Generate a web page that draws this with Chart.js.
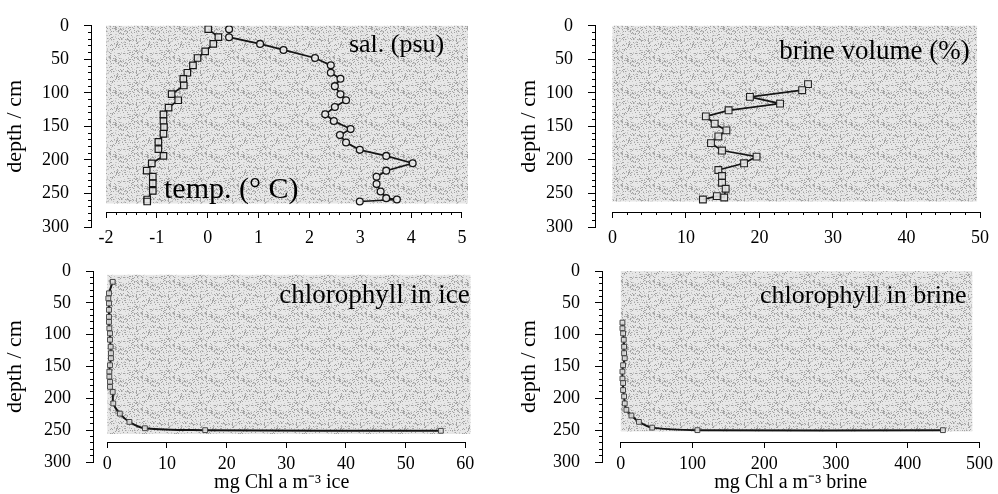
<!DOCTYPE html>
<html>
<head>
<meta charset="utf-8">
<script src="https://cdn.jsdelivr.net/npm/chart.js@4/dist/chart.umd.min.js"></script>
<style>
html,body{margin:0;padding:0;background:#fff;}
#wrap{position:relative;width:998px;height:494px;overflow:hidden;background:#fff;}
#wrap canvas{position:absolute;left:0;top:0;}
</style>
</head>
<body>
<div id="wrap">
<canvas id="cTL" width="998" height="494"></canvas>
<canvas id="cTR" width="998" height="494"></canvas>
<canvas id="cBL" width="998" height="494"></canvas>
<canvas id="cBR" width="998" height="494"></canvas>
</div>
<script>
// ---------------- data ----------------
const tempDepth  = [5,17,27,38,48,59,70,79,89,102,111,122,132,142,151,161,173,184,194,205,216,225,235,246,259,262];
const tempValues = [0.01,0.21,0.11,-0.05,-0.20,-0.29,-0.40,-0.48,-0.47,-0.71,-0.58,-0.77,-0.87,-0.87,-0.86,-0.87,-0.97,-0.97,-0.87,-1.10,-1.20,-1.08,-1.08,-1.08,-1.19,-1.19];

const salDepth  = [5,17,27,36,48,59,70,79,90,102,111,121,132,142,154,163,174,185,194,205,216,225,236,247,257,259,262];
const salValues = [0.42,0.42,1.03,1.49,2.11,2.42,2.42,2.61,2.50,2.61,2.72,2.50,2.31,2.48,2.81,2.60,2.72,2.99,3.51,4.03,3.51,3.32,3.32,3.40,3.51,3.72,2.99];

const brineDepth  = [87,96,106,116,126,135,146,156,165,175,186,195,205,215,224,234,243,256,254,259];
const brineVolume = [26.6,25.8,18.7,22.8,15.8,12.7,13.9,15.5,14.4,13.4,14.9,19.6,17.9,14.4,14.9,14.9,15.4,15.2,14.2,12.3];

const iceChlDepth = [17,35,43,51,61,72,80,90,98,108,119,129,137,148,158,166,174,182,190,208,224,237,247,250,251];
const iceChl      = [0.9,0.28,0.17,0.28,0.28,0.28,0.28,0.34,0.45,0.45,0.56,0.61,0.61,0.45,0.34,0.34,0.45,0.45,0.9,1.0,2.1,3.7,6.3,16.4,55.9];

const brineChlDepth = [81,90,98,108,119,129,137,148,158,169,176,187,197,208,218,227,237,246,250,250];
const brineChl      = [2.3,2.3,3.2,4.1,4.6,4.6,5.5,3.2,2.3,2.3,3.2,3.2,4.6,5.5,7.8,14.8,25.3,43.8,106.8,449];

// tick labels
const depthTicks    = [0,50,100,150,200,250,300];
const tempSalTicks  = [-2,-1,0,1,2,3,4,5];
const brineVolTicks = [0,10,20,30,40,50];
const iceChlTicks   = [0,10,20,30,40,50,60];
const brineChlTicks = [0,100,200,300,400,500];

// ---------------- helpers ----------------
function pts(xs, ys){ return xs.map((v,i)=>({x:v, y:ys[i]})); }
function steps(a,b,s){ const r=[]; for(let v=a; v<=b+1e-9; v+=s) r.push(Math.round(v*1000)/1000); return r; }
const depthMinor = steps(0,300,10);

Chart.defaults.font.family = '"Liberation Serif","Times New Roman",serif';
Chart.defaults.font.size = 18;
Chart.defaults.color = '#000';

// stipple texture for the shaded plot backgrounds (deterministic hash, not data)
let shadePattern = null;
function getPattern(ctx){
  if (shadePattern) return shadePattern;
  const N = 32;
  const c = document.createElement('canvas'); c.width = N; c.height = N;
  const g = c.getContext('2d');
  g.fillStyle = '#e7e7e7'; g.fillRect(0,0,N,N);
  for (let i=0;i<N;i++) for (let j=0;j<N;j++) {
    let h = (Math.imul(i+1, 73856093) ^ Math.imul(j+7, 19349663)) >>> 0;
    h = Math.imul(h ^ (h >>> 13), 1274126177) >>> 0;
    const r = (h >>> 8) % 100;
    if (r < 14) { g.fillStyle = '#a2a2a2'; g.fillRect(i,j,1,1); }
    else if (r < 28) { g.fillStyle = '#c8c8c8'; g.fillRect(i,j,1,1); }
  }
  shadePattern = ctx.createPattern(c,'repeat');
  return shadePattern;
}

const panelDeco = {
  id: 'panelDeco',
  beforeDatasetsDraw(chart, args, o){
    const {ctx} = chart, x = chart.scales.x, y = chart.scales.y;
    const s = o.shade;
    const l = x.getPixelForValue(s.x0), r = x.getPixelForValue(s.x1);
    const t = y.getPixelForValue(s.d0), b = y.getPixelForValue(s.d1);
    ctx.save();
    ctx.fillStyle = getPattern(ctx);
    ctx.fillRect(l, t, r-l, b-t);
    ctx.restore();
  },
  afterDatasetsDraw(chart, args, o){
    const {ctx} = chart, x = chart.scales.x, y = chart.scales.y;
    ctx.save();
    const a = o.axisLine;
    const py = Math.round(y.getPixelForValue(a.depth)) + 0.5;
    ctx.strokeStyle = '#000'; ctx.lineWidth = 1;
    ctx.beginPath();
    ctx.moveTo(x.getPixelForValue(a.from), py);
    ctx.lineTo(x.getPixelForValue(a.to), py);
    ctx.stroke();
    (o.labels||[]).forEach(L=>{
      ctx.font = L.size + 'px "Liberation Serif","Times New Roman",serif';
      ctx.fillStyle = '#000';
      ctx.textAlign = L.align;
      ctx.textBaseline = L.baseline;
      ctx.fillText(L.text, x.getPixelForValue(L.x), y.getPixelForValue(L.d));
    });
    ctx.restore();
  }
};

function makePanel(id, c){
  const scales = {
    x: {
      type:'linear', axis:'x', position:{y:c.axisDepth}, min:c.xMin, max:c.xMax,
      afterBuildTicks: s => { s.ticks = c.xTicks.map(v=>({value:v})); },
      ticks:{autoSkip:false, padding:c.xPad, maxRotation:0, font:{size:18}, color:'#000'},
      grid:{display:true, drawOnChartArea:false, drawTicks:true, tickLength:6, color:'#000', tickColor:'#000'},
      border:{display:false},
      title: c.xTitle ? {display:true, text:c.xTitle, font:{size:20}, color:'#000', padding:{top:-9,bottom:0}} : {display:false}
    },
    xMinor: {
      type:'linear', axis:'x', position:{y:c.axisDepth}, min:c.xMin, max:c.xMax,
      display: !!c.xMinor,
      afterBuildTicks: s => { s.ticks = (c.xMinor||[]).map(v=>({value:v})); },
      ticks:{display:false},
      grid:{display:true, drawOnChartArea:false, drawTicks:true, tickLength:3, color:'#000'},
      border:{display:false}
    },
    y: {
      type:'linear', axis:'y', position:'left', reverse:true, min:0, max:300, weight:1,
      afterBuildTicks: s => { s.ticks = depthTicks.map(v=>({value:v})); },
      afterFit: s => { s.width = c.yWidth; },
      ticks:{autoSkip:false, padding:15, font:{size:18}, color:'#000'},
      grid:{display:true, drawOnChartArea:false, drawTicks:true, tickLength:7, color:'#000'},
      border:{display:true, color:'#000', width:1},
      title:{display:true, text:'depth / cm', font:{size:22}, color:'#000', padding:{top:2,bottom:0}}
    },
    yMinor: {
      type:'linear', axis:'y', position:'left', reverse:true, min:0, max:300, weight:0,
      afterBuildTicks: s => { s.ticks = depthMinor.map(v=>({value:v})); },
      afterFit: s => { s.width = 0; },
      ticks:{display:false},
      grid:{display:true, drawOnChartArea:false, drawTicks:true, tickLength:3, color:'#000'},
      border:{display:false}
    }
  };
  return new Chart(document.getElementById(id), {
    type:'scatter',
    data:{datasets:c.datasets},
    options:{
      responsive:false, animation:false, events:[], devicePixelRatio:1,
      layout:{padding:c.padding},
      plugins:{legend:{display:false}, tooltip:{enabled:false}, title:{display:false}, panelDeco:c.deco},
      scales
    },
    plugins:[panelDeco]
  });
}

// ---------------- panels ----------------
makePanel('cTL', {
  padding:{left:0, top:18, right:530, bottom:267},
  yWidth:91, xMin:-2.295, xMax:5.118, axisDepth:278, xPad:9,
  xTicks:tempSalTicks, xMinor:steps(-2,5,0.2),
  deco:{
    shade:{x0:-2, x1:5.118, d0:0, d1:265},
    axisLine:{from:-2, to:5, depth:278},
    labels:[
      {text:'sal. (psu)', x:4.65, d:28.7, size:26, align:'right', baseline:'middle'},
      {text:'temp. (° C)', x:-0.86, d:257, size:30, align:'left', baseline:'alphabetic'}
    ]
  },
  datasets:[
    {label:'temp. (° C)', data:pts(tempValues,tempDepth), showLine:true, tension:0,
     borderColor:'#151515', borderWidth:1.7, pointStyle:'rect', pointRadius:4.6,
     pointBorderWidth:1.2, pointBorderColor:'#151515', pointBackgroundColor:'rgba(230,230,230,0.9)'},
    {label:'sal. (psu)', data:pts(salValues,salDepth), showLine:true, tension:0,
     borderColor:'#151515', borderWidth:1.7, pointStyle:'circle', pointRadius:3.4,
     pointBorderWidth:1.3, pointBorderColor:'#151515', pointBackgroundColor:'rgba(240,240,240,0.9)'}
  ]
});

makePanel('cTR', {
  padding:{left:514, top:18, right:18, bottom:267},
  yWidth:81, xMin:-2.38, xMax:50, axisDepth:278, xPad:9,
  xTicks:brineVolTicks, xMinor:steps(0,50,2),
  deco:{
    shade:{x0:0, x1:49.6, d0:0, d1:262},
    axisLine:{from:0, to:50, depth:278},
    labels:[
      {text:'brine volume (%)', x:48.6, d:38.8, size:27, align:'right', baseline:'middle'}
    ]
  },
  datasets:[
    {label:'brine volume (%)', data:pts(brineVolume,brineDepth), showLine:true, tension:0,
     borderColor:'#151515', borderWidth:1.7, pointStyle:'rect', pointRadius:4.8,
     pointBorderWidth:1.1, pointBorderColor:'#222', pointBackgroundColor:'rgba(230,230,230,0.9)'}
  ]
});

makePanel('cBL', {
  padding:{left:0, top:271, right:527.6, bottom:32},
  yWidth:93, xMin:-2.4, xMax:60.85, axisDepth:269, xPad:5,
  xTicks:iceChlTicks, xMinor:null, xTitle:'mg Chl a m⁻³ ice',
  deco:{
    shade:{x0:0, x1:60.85, d0:6, d1:256},
    axisLine:{from:0, to:60, depth:269},
    labels:[
      {text:'chlorophyll in ice', x:60.75, d:39.3, size:27, align:'right', baseline:'middle'}
    ]
  },
  datasets:[
    {label:'chlorophyll in ice', data:pts(iceChl,iceChlDepth), showLine:true, tension:0.35,
     borderColor:'#151515', borderWidth:2, pointStyle:'rect', pointRadius:3.4,
     pointBorderWidth:1, pointBorderColor:'#444', pointBackgroundColor:'rgba(225,225,225,0.9)'}
  ]
});

makePanel('cBR', {
  padding:{left:514, top:271, right:15, bottom:32},
  yWidth:88, xMin:-26.2, xMax:500, axisDepth:269, xPad:5,
  xTicks:brineChlTicks, xMinor:null, xTitle:'mg Chl a m⁻³ brine',
  deco:{
    shade:{x0:0, x1:490, d0:0, d1:252},
    axisLine:{from:0, to:500, depth:269},
    labels:[
      {text:'chlorophyll in brine', x:482, d:39.3, size:26, align:'right', baseline:'middle'}
    ]
  },
  datasets:[
    {label:'chlorophyll in brine', data:pts(brineChl,brineChlDepth), showLine:true, tension:0.35,
     borderColor:'#151515', borderWidth:2, pointStyle:'rect', pointRadius:3.4,
     pointBorderWidth:1, pointBorderColor:'#444', pointBackgroundColor:'rgba(225,225,225,0.9)'}
  ]
});
</script>
</body>
</html>
